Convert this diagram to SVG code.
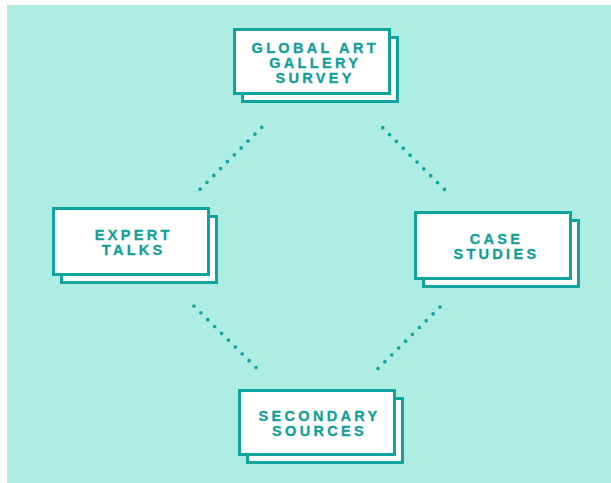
<svg xmlns="http://www.w3.org/2000/svg" width="611" height="483" viewBox="0 0 611 483">
<style>
.card{fill:#ffffff;stroke:#0ea59e;stroke-width:3}
.lbl{font-family:"Liberation Sans",Arial,sans-serif;font-weight:bold;font-size:14.5px;letter-spacing:3.3px;fill:#0fa099;text-anchor:middle;stroke:#0fa099;stroke-width:0.3}
.dot{stroke:#0ea59e;stroke-width:3.7;stroke-linecap:round;stroke-dasharray:0 9.7;fill:none}
</style>
<rect x="7" y="5" width="604" height="478" fill="#aeede1"/>
<g id="connectors">
<line class="dot" x1="261.7" y1="127.3" x2="200" y2="189.3"/>
<line class="dot" x1="382.7" y1="127.7" x2="445" y2="190"/>
<line class="dot" x1="194" y1="306" x2="257.5" y2="369"/>
<line class="dot" x1="440" y1="307" x2="377.5" y2="369"/>
</g>
<g id="node-survey">
<rect class="card" x="242.5" y="37.5" width="155" height="64"/>
<rect class="card" x="234.5" y="29.5" width="155" height="64"/>
<text class="lbl" x="315.2" y="52.9">GLOBAL ART</text>
<text class="lbl" x="315.2" y="67.9">GALLERY</text>
<text class="lbl" x="315.2" y="82.9">SURVEY</text>
</g>
<g id="node-expert">
<rect class="card" x="61.5" y="216.5" width="155" height="66"/>
<rect class="card" x="53.5" y="208.5" width="155" height="66"/>
<text class="lbl" x="133.7" y="240">EXPERT</text>
<text class="lbl" x="133.7" y="255">TALKS</text>
</g>
<g id="node-case">
<rect class="card" x="423.5" y="220.5" width="155" height="66"/>
<rect class="card" x="415.5" y="212.5" width="155" height="66"/>
<text class="lbl" x="496.4" y="243.7">CASE</text>
<text class="lbl" x="496.4" y="259">STUDIES</text>
</g>
<g id="node-secondary">
<rect class="card" x="247.5" y="398.5" width="155" height="64"/>
<rect class="card" x="239.5" y="390.5" width="155" height="64"/>
<text class="lbl" x="319.5" y="420.8">SECONDARY</text>
<text class="lbl" x="319.5" y="435.8">SOURCES</text>
</g>
</svg>
